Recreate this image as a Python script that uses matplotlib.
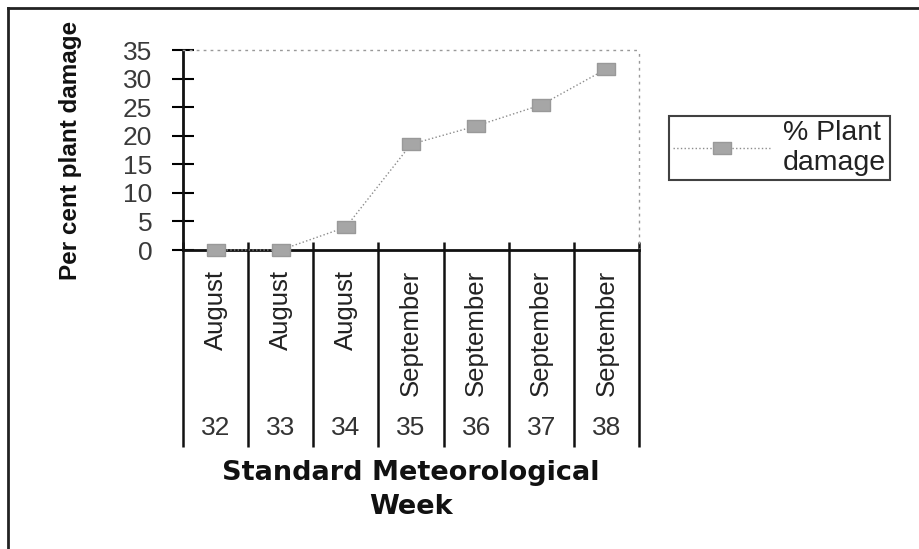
import numpy as np
import matplotlib.pyplot as plt
from matplotlib.lines import Line2D

# Per cent plant damage per standard meteorological week
weeks = ["32", "33", "34", "35", "36", "37", "38"]
months = ["August", "August", "August", "September", "September", "September", "September"]
damage = [0.0, 0.0, 4.0, 18.5, 21.7, 25.4, 31.7]

plt.rcParams["font.family"] = ["Liberation Sans", "DejaVu Sans"]

fig = plt.figure(figsize=(9.2, 5.49), dpi=100)
ax = fig.add_axes([183 / 920, 299 / 549, 456 / 920, 200 / 549])

x = np.arange(len(weeks))
rect = [(-1, -0.62), (1, -0.62), (1, 0.62), (-1, 0.62), (-1, -0.62)]
ax.plot(x, damage, linestyle=":", color="#8c8c8c", lw=1.0,
        marker=rect, markersize=13, markerfacecolor="#a6a6a6",
        markeredgecolor="#999999", label="% Plant\ndamage", clip_on=False, zorder=5)

ax.set_xlim(-0.5, len(weeks) - 0.5)
ax.set_ylim(0, 35)
ax.set_yticks(range(0, 36, 5))
ax.tick_params(axis="y", direction="inout", length=16, width=1.5,
               labelsize=19, labelcolor="#3a3a3a", pad=14)
ax.set_xticks([])

# plot frame: solid axes, dotted top and right
for side in ["left", "bottom"]:
    ax.spines[side].set_linewidth(2)
    ax.spines[side].set_color("#111111")
for side in ["top", "right"]:
    ax.spines[side].set_linestyle((0, (1, 4)))
    ax.spines[side].set_color("#999999")
    ax.spines[side].set_linewidth(1)

# two-level category axis: month names and week numbers between separators
trans = ax.get_xaxis_transform()
bounds = np.arange(len(weeks) + 1) - 0.5
ax.vlines(bounds, -0.985, 0.04, transform=trans, colors="#111111", lw=1.8, clip_on=False)
for i in range(len(weeks)):
    ax.text(x[i], -0.1, months[i], rotation=90, ha="center", va="top",
            fontsize=18.5, color="#222222", transform=trans)
    ax.text(x[i], -0.89, weeks[i], ha="center", va="center", fontsize=19,
            color="#333333", transform=trans)

fig.text(411 / 920, 1 - 490 / 549, "Standard Meteorological\nWeek", ha="center",
         va="center", fontsize=19.5, fontweight="bold", linespacing=1.4,
         family=["DejaVu Sans"], color="#111111")
fig.text(70 / 920, 1 - 150 / 549, "Per cent plant damage", rotation=90,
         ha="center", va="center", fontsize=17.5, fontweight="bold", color="#111111")

leg = ax.legend(loc="center left", bbox_to_anchor=(669 / 920, 1 - 148 / 549),
                bbox_transform=fig.transFigure, frameon=True, fancybox=False,
                edgecolor="#111111", handlelength=3.4, borderpad=0.15,
                handletextpad=0.45, borderaxespad=0, labelspacing=0.2,
                prop={"size": 20.5})
leg.get_frame().set_linewidth(1.5)
for t in leg.get_texts():
    t.set_color("#222222")

# outer chart border (left and top edges)
fig.add_artist(Line2D([8 / 920, 8 / 920], [0, 1 - 8 / 549], transform=fig.transFigure,
                      color="#222222", lw=2))
fig.add_artist(Line2D([8 / 920, 1], [1 - 8 / 549, 1 - 8 / 549], transform=fig.transFigure,
                      color="#222222", lw=2))

fig.savefig("out.png", dpi=100)
